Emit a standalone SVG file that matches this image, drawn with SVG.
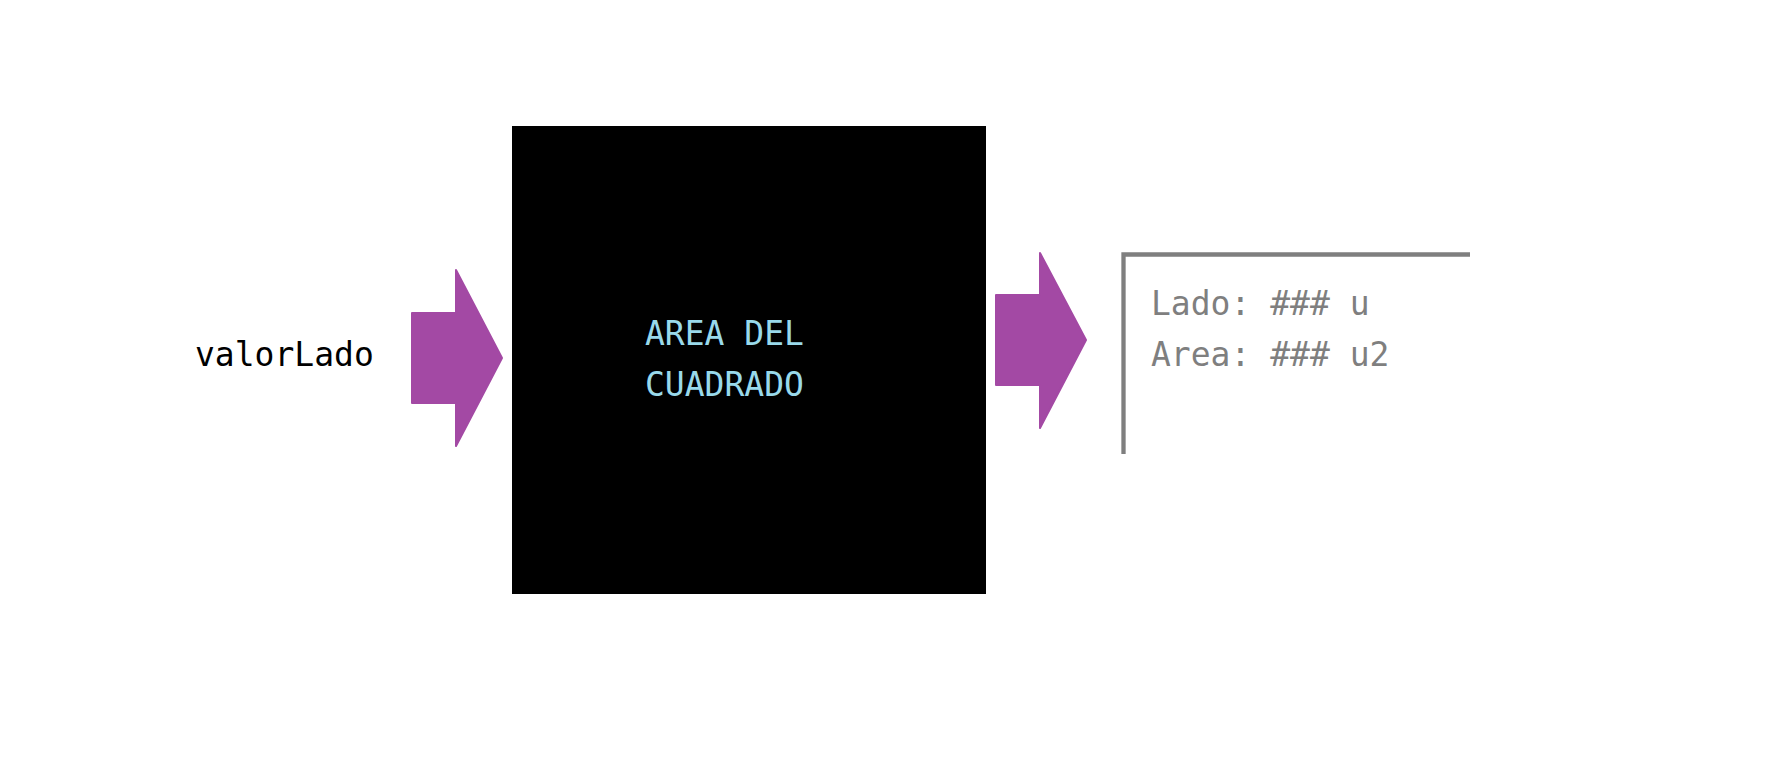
<svg xmlns="http://www.w3.org/2000/svg" width="1782" height="782" viewBox="0 0 1782 782">
  <style>
    .mono { font-family: "DejaVu Sans Mono", "Liberation Mono", monospace; font-size: 33px; }
    .arrow { fill: #A349A4; stroke: #A349A4; stroke-width: 2; stroke-linejoin: round; }
  </style>
  <rect x="0" y="0" width="1782" height="782" fill="#FFFFFF"/>
  <g id="input-label">
    <text class="mono" x="195" y="366" fill="#000000">valorLado</text>
  </g>
  <g id="process">
    <rect x="512" y="126" width="474" height="468" fill="#000000"/>
    <text class="mono" x="645" y="345" fill="#99D9EA">AREA DEL</text>
    <text class="mono" x="645" y="396" fill="#99D9EA">CUADRADO</text>
  </g>
  <g id="output">
    <path d="M1123.5,454 V254.5 H1470" fill="none" stroke="#7F7F7F" stroke-width="4.3"/>
    <text class="mono" x="1151" y="315" fill="#7F7F7F">Lado: ### u</text>
    <text class="mono" x="1151" y="366" fill="#7F7F7F">Area: ### u2</text>
  </g>
  <g id="connectors">
    <polygon class="arrow" points="412,313 456,313 456,270 502,358 456,446 456,403 412,403"/>
    <polygon class="arrow" points="996,295 1040,295 1040,253 1086,340 1040,428 1040,385 996,385"/>
  </g>
</svg>
